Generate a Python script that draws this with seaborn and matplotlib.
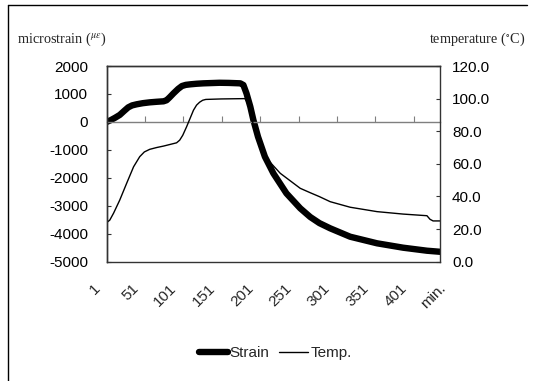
import matplotlib
matplotlib.use("Agg")
import matplotlib.pyplot as plt
import matplotlib.transforms as mtransforms
from matplotlib.lines import Line2D
import seaborn as sns
import pandas as pd

# ---- data ----
strain_min = [1, 6, 12, 18, 24, 29, 34, 40, 48, 57, 66, 75, 79, 83, 88, 94, 99, 104, 110,
              118, 127, 148, 160, 175, 179, 183, 188, 192, 198, 207, 218, 235, 253, 266,
              278, 292, 318, 353, 387, 418, 435]
strain_val = [0, 60, 150, 250, 400, 520, 590, 630, 670, 700, 720, 737, 775, 880, 1023,
              1180, 1284, 1325, 1345, 1365, 1380, 1400, 1395, 1380, 1320, 1023, 544, 68,
              -529, -1245, -1838, -2554, -3090, -3400, -3620, -3806, -4106, -4342, -4499,
              -4607, -4645]

temp_min = [1, 5, 10, 18, 27, 36, 44, 50, 57, 66, 75, 92, 96, 100, 105, 114, 118, 122,
            126, 130, 150, 181, 185, 188, 192, 198, 205, 211, 227, 253, 266, 278, 292,
            318, 353, 387, 418, 422, 426, 435]
temp_val = [24, 25.5, 29.8, 37.8, 48.1, 58.2, 64.4, 67.3, 68.9, 70.0, 70.9, 72.9, 74.5,
            77.5, 82.7, 92.9, 96.0, 97.8, 99.0, 99.5, 99.8, 100, 97, 93, 83.5, 74.6, 66,
            62.4, 54.2, 45, 42.3, 39.9, 36.8, 33.4, 30.7, 29.2, 28.2, 26, 25, 25]

x_ticks = [1, 51, 101, 151, 201, 251, 301, 351, 401]
x_labels = ["1", "51", "101", "151", "201", "251", "301", "351", "401"]
x_end_label = "min."
x_end_pos = 451
y_left_ticks = [2000, 1000, 0, -1000, -2000, -3000, -4000, -5000]
y_right_ticks = [120, 100, 80, 60, 40, 20, 0]

strain_df = pd.DataFrame({"min": strain_min, "strain": strain_val})
temp_df = pd.DataFrame({"min": temp_min, "temp": temp_val})

sns.set_style("white")
plt.rcParams["font.family"] = ["Liberation Sans", "DejaVu Sans"]
plt.rcParams["mathtext.fontset"] = "stix"

W, H = 533, 381
fig = plt.figure(figsize=(W / 100, H / 100), dpi=100)
L, R, T, B = 106.7, 440, 66, 261.7
ax = fig.add_axes([L / W, 1 - B / H, (R - L) / W, (B - T) / H])
ax2 = ax.twinx()

frame_c = "#333333"
sns.lineplot(data=strain_df, x="min", y="strain", ax=ax, color="black", lw=4.6,
             solid_capstyle="round", solid_joinstyle="round", label="Strain", legend=False)
sns.lineplot(data=temp_df, x="min", y="temp", ax=ax2, color="black", lw=1.0,
             label="Temp.", legend=False)

ax.set_xlim(1, 435)
ax.set_ylim(-5000, 2000)
ax2.set_ylim(0, 120)
for a in (ax, ax2):
    a.set_xlabel("")
    a.set_ylabel("")

ax.set_yticks(y_left_ticks)
ax.set_yticklabels([str(v) for v in y_left_ticks])
ax2.set_yticks(y_right_ticks)
ax2.set_yticklabels([f"{v:.1f}" for v in y_right_ticks])
ax.set_xticks(x_ticks)
ax.set_xticklabels(x_labels)

# zero-crossing category axis with upward ticks
ax.spines["bottom"].set_position(("data", 0))
ax.spines["bottom"].set_color("#7f7f7f")
ax.spines["bottom"].set_linewidth(1.0)
ax.tick_params(axis="x", bottom=True, direction="in", length=4, width=0.8,
               color="#7f7f7f", labelbottom=False)
ax.tick_params(axis="y", left=True, direction="in", length=3, width=0.8, color=frame_c,
               labelsize=11, pad=13.5, labelcolor="black")
ax2.tick_params(axis="y", right=True, direction="in", length=3, width=0.8, color=frame_c,
                labelsize=11, pad=8.6, labelcolor="black")
for s in ["left", "top"]:
    ax.spines[s].set_color(frame_c)
    ax.spines[s].set_linewidth(1.0)
for s in ["left", "top", "right", "bottom"]:
    ax2.spines[s].set_color(frame_c)
    ax2.spines[s].set_linewidth(1.0)
ax.spines["right"].set_visible(False)

# x labels at the bottom of plot area (through the twin axes)
ax2.xaxis.set_visible(True)
ax2.tick_params(axis="x", bottom=False, length=0, labelbottom=True, labelsize=11, pad=14,
                labelrotation=45)
offset = mtransforms.ScaledTranslation(-14 / 100, 0, fig.dpi_scale_trans)
for lab in ax2.get_xticklabels():
    lab.set_ha("right")
    lab.set_va("top")
    lab.set_rotation_mode("anchor")
    lab.set_transform(lab.get_transform() + offset)
ax2.text(x_end_pos, 0, x_end_label, transform=ax2.get_xaxis_transform() +
         mtransforms.ScaledTranslation(-14 / 100, -14 / 72, fig.dpi_scale_trans),
         rotation=45, rotation_mode="anchor", ha="right", va="top", fontsize=11,
         clip_on=False)

# axis titles
fig.text(17 / W, 1 - 43 / H, r"microstrain ($^{\mu\varepsilon}$)", family="Liberation Serif",
         fontsize=10.3, ha="left", va="baseline")
fig.text(525 / W, 1 - 43 / H, "temperature ($^{\circ}$C)", family="Liberation Serif",
         fontsize=10.3, ha="right", va="baseline")

# legend
handles = [Line2D([], [], color="black", lw=4.6, solid_capstyle="round"),
           Line2D([], [], color="black", lw=1.0)]
fig.legend(handles, ["Strain", "Temp."], loc="center", bbox_to_anchor=(275 / W, 1 - 353 / H),
           ncol=2, frameon=False, fontsize=11, handlelength=1.9, handletextpad=0.15,
           columnspacing=0.6)

# outer frame (top and left edges)
fig.add_artist(Line2D([8 / W, 527 / W], [1 - 5 / H, 1 - 5 / H], transform=fig.transFigure,
                      color="black", lw=1.0))
fig.add_artist(Line2D([8 / W, 8 / W], [1 - 5 / H, 0], transform=fig.transFigure,
                      color="black", lw=1.0))

fig.savefig("out.png", dpi=100)
